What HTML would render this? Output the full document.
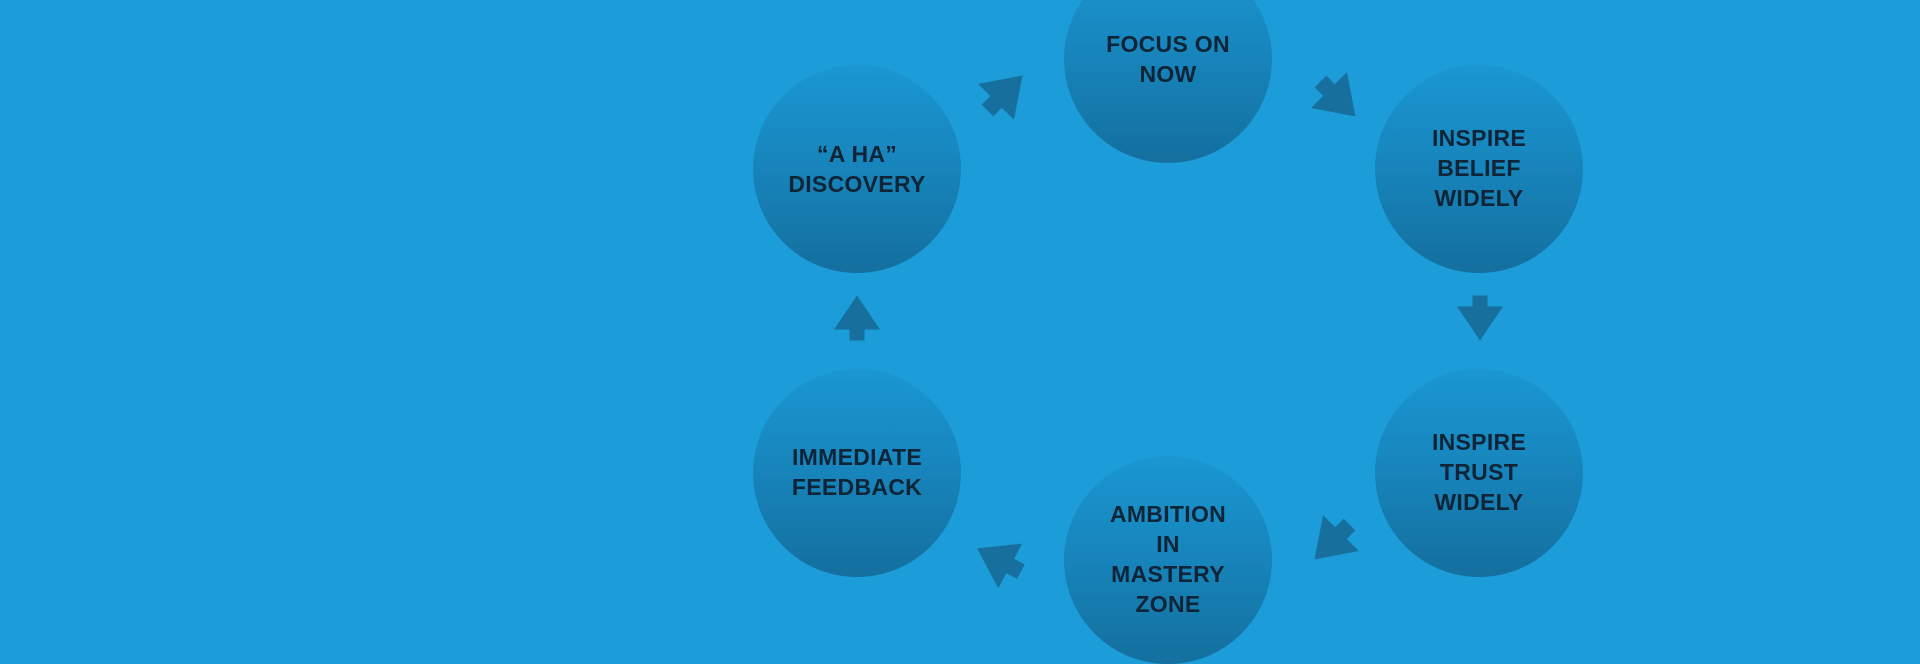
<!DOCTYPE html>
<html><head><meta charset="utf-8"><style>
html,body{margin:0;padding:0;}
body{width:1920px;height:640px;background:#1c9cd9;position:relative;overflow:hidden;font-family:"Liberation Sans",sans-serif;}
.c{position:absolute;width:208px;height:208px;border-radius:50%;background:linear-gradient(#1b97d2 0%,#1784bb 50%,#146f9e 100%);}
.t{position:absolute;width:260px;text-align:center;font-weight:bold;font-size:23px;color:#0f2436;line-height:30px;transform:translateX(-50%);letter-spacing:0.3px;}
</style></head><body>
<div class="c" style="left:753px;top:65px"></div>
<div class="c" style="left:1064px;top:-45px"></div>
<div class="c" style="left:1375px;top:65px"></div>
<div class="c" style="left:1375px;top:369px"></div>
<div class="c" style="left:1064px;top:456px"></div>
<div class="c" style="left:753px;top:369px"></div>
<div class="t" style="left:857px;top:139px">“A HA”<br>DISCOVERY</div>
<div class="t" style="left:1168px;top:29px">FOCUS ON<br>NOW</div>
<div class="t" style="left:1479px;top:123px">INSPIRE<br>BELIEF<br>WIDELY</div>
<div class="t" style="left:1479px;top:427px">INSPIRE<br>TRUST<br>WIDELY</div>
<div class="t" style="left:1168px;top:499px">AMBITION<br>IN<br>MASTERY<br>ZONE</div>
<div class="t" style="left:857px;top:442px">IMMEDIATE<br>FEEDBACK</div>
<svg width="1920" height="640" style="position:absolute;left:0;top:0">
<defs><polygon id="a" points="0,-22.5 23,11.5 7.5,11.5 7.5,22.5 -7.5,22.5 -7.5,11.5 -23,11.5" fill="#166f9c"/></defs>
<use href="#a" transform="translate(857,318)"/>
<use href="#a" transform="translate(1480,318) rotate(180)"/>
<use href="#a" transform="translate(1005,93) rotate(45) scale(1.1)"/>
<use href="#a" transform="translate(1338,99) rotate(135) scale(1.1)"/>
<use href="#a" transform="translate(1332,542) rotate(225) scale(1.1)"/>
<use href="#a" transform="translate(999,560) rotate(-62) scale(1.1)"/>
</svg>
</body></html>
